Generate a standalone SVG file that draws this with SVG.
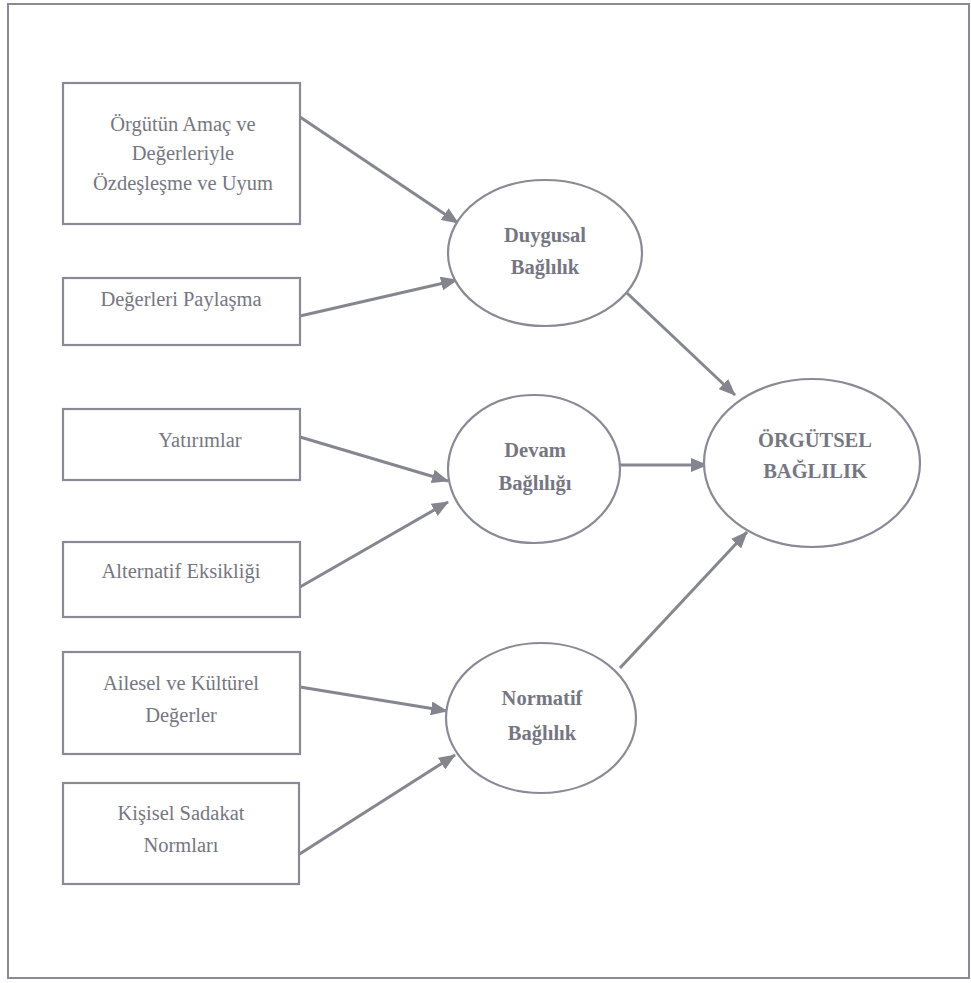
<svg xmlns="http://www.w3.org/2000/svg" width="971" height="983" viewBox="0 0 971 983">
<defs>
<marker id="ah" markerUnits="userSpaceOnUse" markerWidth="18" markerHeight="14" refX="16" refY="7" orient="auto">
<path d="M0,0 L17,7 L0,14 Z" fill="#85858f"/>
</marker>
<style>
.box{fill:#fff;stroke:#8a8a96;stroke-width:2.2}
.ell{fill:#fff;stroke:#8a8a96;stroke-width:2.2}
.t{font-family:'Liberation Serif','DejaVu Serif',serif;font-size:20.5px;fill:#767682;text-anchor:middle}
.b{font-family:'Liberation Serif','DejaVu Serif',serif;font-size:20.5px;font-weight:bold;fill:#767682;text-anchor:middle}
.c{stroke:#86868f;stroke-width:3;fill:none;marker-end:url(#ah)}
</style>
</defs>
<rect x="0" y="0" width="971" height="983" fill="#fff"/>
<rect x="8" y="4" width="961" height="974" fill="none" stroke="#8a8a96" stroke-width="2"/>
<g id="connectors">
<line class="c" x1="300" y1="117" x2="458" y2="223"/>
<line class="c" x1="300" y1="316" x2="457" y2="280"/>
<line class="c" x1="300" y1="437" x2="448" y2="481"/>
<line class="c" x1="300" y1="587" x2="448" y2="502"/>
<line class="c" x1="300" y1="687" x2="447" y2="711"/>
<line class="c" x1="298" y1="855" x2="455" y2="755"/>
<line class="c" x1="627" y1="293" x2="735" y2="395"/>
<line class="c" x1="620" y1="465" x2="707" y2="465"/>
<line class="c" x1="620" y1="668" x2="747" y2="532"/>
</g>
<g id="box1"><rect class="box" x="63" y="83" width="237" height="141"/>
<text class="t" x="183" y="131">Örgütün Amaç ve</text>
<text class="t" x="183" y="160">Değerleriyle</text>
<text class="t" x="183" y="190">Özdeşleşme ve Uyum</text></g>
<g id="box2"><rect class="box" x="63" y="278" width="237" height="67"/>
<text class="t" x="181" y="306">Değerleri Paylaşma</text></g>
<g id="box3"><rect class="box" x="63" y="409" width="237" height="71"/>
<text class="t" x="200" y="447">Yatırımlar</text></g>
<g id="box4"><rect class="box" x="63" y="542" width="237" height="75"/>
<text class="t" x="181" y="578">Alternatif Eksikliği</text></g>
<g id="box5"><rect class="box" x="63" y="652" width="237" height="102"/>
<text class="t" x="181" y="690">Ailesel ve Kültürel</text>
<text class="t" x="181" y="722">Değerler</text></g>
<g id="box6"><rect class="box" x="63" y="783" width="236" height="101"/>
<text class="t" x="181" y="820">Kişisel Sadakat</text>
<text class="t" x="181" y="852">Normları</text></g>
<g id="duygusal"><ellipse class="ell" cx="545" cy="253" rx="97" ry="73"/>
<text class="b" x="545" y="242">Duygusal</text>
<text class="b" x="545" y="274">Bağlılık</text></g>
<g id="devam"><ellipse class="ell" cx="534" cy="469" rx="86" ry="74"/>
<text class="b" x="535" y="457">Devam</text>
<text class="b" x="535" y="490">Bağlılığı</text></g>
<g id="normatif"><ellipse class="ell" cx="541" cy="718" rx="95" ry="75"/>
<text class="b" x="542" y="705">Normatif</text>
<text class="b" x="542" y="740">Bağlılık</text></g>
<g id="orgutsel"><ellipse class="ell" cx="812" cy="463" rx="108" ry="84"/>
<text class="b" x="815" y="447">ÖRGÜTSEL</text>
<text class="b" x="815" y="478">BAĞLILIK</text></g>
</svg>
